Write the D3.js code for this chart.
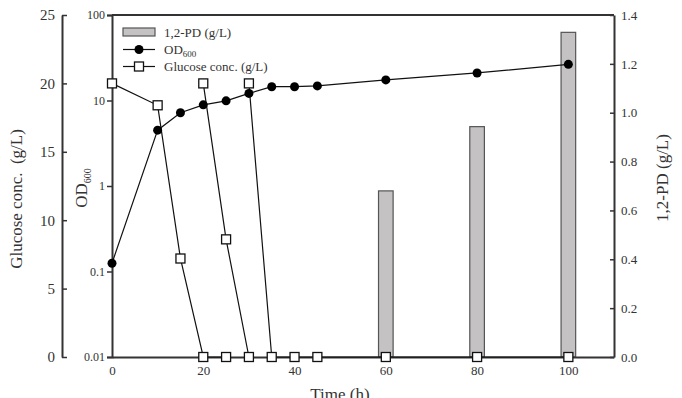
<!DOCTYPE html>
<html><head><meta charset="utf-8">
<script src="https://cdn.jsdelivr.net/npm/d3@7"></script>
<style>
body{margin:0;background:#fff;}
svg{display:block;font-family:"Liberation Serif","Times New Roman",serif;}
</style></head>
<body><svg id="c" width="682" height="398"></svg>
<script>
// ---- data ----
const odTime = [0, 10, 15, 20, 25, 30, 35, 40, 45, 60, 80, 100];
const odValue = [0.125, 4.5, 7.2, 8.9, 9.9, 12.1, 14.5, 14.5, 14.8, 17.4, 21.0, 26.5];
const glucoseSeg1Time = [0, 10, 15, 20, 25];
const glucoseSeg1Value = [20, 18.4, 7.2, 0, 0];
const glucoseSeg2Time = [20, 25, 30];
const glucoseSeg2Value = [20, 8.6, 0];
const glucoseSeg3Time = [30, 35, 40, 45, 60, 80, 100];
const glucoseSeg3Value = [20, 0, 0, 0, 0, 0, 0];
const pdTime = [60, 80, 100];
const pdValue = [0.68, 0.943, 1.329];
const xTicks = [0, 20, 40, 60, 80, 100];
const glucoseTicks = [0, 5, 10, 15, 20, 25];
const odTicks = [0.01, 0.1, 1, 10, 100];
const odTickLabels = ["0.01", "0.1", "1", "10", "100"];
const pdTicks = [0, 0.2, 0.4, 0.6, 0.8, 1.0, 1.2, 1.4];

const svg = d3.select("#c");
const L = 112, R = 614, T = 15, B = 357;
const axisCol = "#333", textCol = "#333";

const x = d3.scaleLinear().domain([0, 110]).range([L, R]);
const yOD = d3.scaleLog().domain([0.01, 100]).range([B, T]);
const yG = d3.scaleLinear().domain([0, 25]).range([B, T]);
const yPD = d3.scaleLinear().domain([0, 1.4]).range([B, T]);

// bars
const barW = x(3.2) - x(0);
svg.append("g").selectAll("rect").data(pdTime).join("rect")
  .attr("x", (d) => x(d) - barW / 2)
  .attr("y", (d, i) => yPD(pdValue[i]))
  .attr("width", barW)
  .attr("height", (d, i) => yPD(0) - yPD(pdValue[i]))
  .attr("fill", "#c4c2c2").attr("stroke", "#555").attr("stroke-width", 1.2);

// frame: top line
svg.append("line").attr("x1", L).attr("x2", R).attr("y1", T).attr("y2", T)
  .attr("stroke", axisCol).attr("stroke-width", 2);

// x axis
const gx = svg.append("g").attr("transform", `translate(0,${B})`)
  .call(d3.axisBottom(x).tickValues(xTicks).tickSize(0).tickPadding(9).tickFormat(d3.format("d")));
gx.select(".domain").attr("stroke", axisCol).attr("stroke-width", 2);
gx.selectAll("text").attr("font-size", 13).attr("fill", textCol).style("font-family", "Liberation Serif");

// OD axis (left of frame)
const gOD = svg.append("g").attr("transform", `translate(${L},0)`)
  .call(d3.axisLeft(yOD).tickValues(odTicks).tickSize(5).tickPadding(2)
    .tickFormat((d, i) => odTickLabels[i]));
gOD.select(".domain").attr("stroke", axisCol).attr("stroke-width", 2);
gOD.selectAll("line").attr("stroke", axisCol).attr("stroke-width", 1.5);
gOD.selectAll("text").attr("font-size", 12).attr("fill", textCol).style("font-family", "Liberation Serif");

// glucose axis (outer left)
const gGl = svg.append("g").attr("transform", `translate(62,0)`)
  .call(d3.axisLeft(yG).tickValues(glucoseTicks).tickSizeInner(-5).tickSizeOuter(0).tickPadding(7).tickFormat(d3.format("d")));
gGl.select(".domain").attr("stroke", axisCol).attr("stroke-width", 2);
gGl.selectAll("line").attr("stroke", axisCol).attr("stroke-width", 1.5);
gGl.selectAll("text").attr("font-size", 15).attr("fill", textCol).style("font-family", "Liberation Serif");

// right PD axis
const gPD = svg.append("g").attr("transform", `translate(${R},0)`)
  .call(d3.axisRight(yPD).tickValues(pdTicks).tickSizeInner(-4).tickSizeOuter(0).tickPadding(7).tickFormat(d3.format(".1f")));
gPD.select(".domain").attr("stroke", axisCol).attr("stroke-width", 2);
gPD.selectAll("line").attr("stroke", axisCol).attr("stroke-width", 1.5);
gPD.selectAll("text").attr("font-size", 13).attr("fill", textCol).style("font-family", "Liberation Serif");

// glucose lines
const gLine = d3.line().x((d) => x(d[0])).y((d) => yG(d[1]));
const segs = [
  [glucoseSeg1Time, glucoseSeg1Value],
  [glucoseSeg2Time, glucoseSeg2Value],
  [glucoseSeg3Time, glucoseSeg3Value]
].map(([t, v]) => t.map((tt, i) => [tt, v[i]]));
segs.forEach((s) => {
  svg.append("path").attr("d", gLine(s)).attr("fill", "none").attr("stroke", "#111").attr("stroke-width", 1.2);
});

// OD line
const odPts = odTime.map((t, i) => [t, odValue[i]]);
svg.append("path").attr("d", d3.line().x((d) => x(d[0])).y((d) => yOD(d[1]))(odPts))
  .attr("fill", "none").attr("stroke", "#111").attr("stroke-width", 1.2);

// glucose markers
const sq = 9;
segs.forEach((s) => {
  svg.append("g").selectAll("rect").data(s).join("rect")
    .attr("x", (d) => x(d[0]) - sq / 2).attr("y", (d) => yG(d[1]) - sq / 2)
    .attr("width", sq).attr("height", sq)
    .attr("fill", "#fff").attr("stroke", "#111").attr("stroke-width", 1.3);
});
// OD markers
svg.append("g").selectAll("circle").data(odPts).join("circle")
  .attr("cx", (d) => x(d[0])).attr("cy", (d) => yOD(d[1])).attr("r", 4.5)
  .attr("fill", "#000");

// legend
const lg = svg.append("g").style("font-family", "Liberation Serif").attr("fill", textCol);
lg.append("rect").attr("x", 123).attr("y", 28).attr("width", 32).attr("height", 8)
  .attr("fill", "#c4c2c2").attr("stroke", "#555").attr("stroke-width", 1.2);
lg.append("text").attr("x", 164).attr("y", 37).attr("font-size", 13).text("1,2-PD (g/L)");
lg.append("line").attr("x1", 123).attr("x2", 155).attr("y1", 49.5).attr("y2", 49.5).attr("stroke", "#111").attr("stroke-width", 1.2);
lg.append("circle").attr("cx", 139).attr("cy", 49.5).attr("r", 4.5).attr("fill", "#000");
const odt = lg.append("text").attr("x", 164).attr("y", 54).attr("font-size", 13);
odt.append("tspan").text("OD");
odt.append("tspan").attr("font-size", 9).attr("dy", 3).text("600");
lg.append("line").attr("x1", 123).attr("x2", 155).attr("y1", 66.5).attr("y2", 66.5).attr("stroke", "#111").attr("stroke-width", 1.2);
lg.append("rect").attr("x", 139 - sq / 2).attr("y", 66.5 - sq / 2).attr("width", sq).attr("height", sq)
  .attr("fill", "#fff").attr("stroke", "#111").attr("stroke-width", 1.3);
lg.append("text").attr("x", 164).attr("y", 71).attr("font-size", 13).text("Glucose conc. (g/L)");

// axis titles
svg.append("text").attr("transform", `translate(22,199) rotate(-90)`).attr("text-anchor", "middle")
  .attr("font-size", 17).attr("fill", textCol).attr("xml:space", "preserve").text("Glucose conc.  (g/L)");
const odTitle = svg.append("text").attr("transform", `translate(87,188) rotate(-90)`).attr("text-anchor", "middle")
  .attr("font-size", 17).attr("fill", textCol);
odTitle.append("tspan").text("OD");
odTitle.append("tspan").attr("font-size", 10).attr("dy", 4).text("600");
svg.append("text").attr("transform", `translate(668,178) rotate(-90)`).attr("text-anchor", "middle")
  .attr("font-size", 17).attr("fill", textCol).text("1,2-PD (g/L)");
svg.append("text").attr("x", 340).attr("y", 400).attr("text-anchor", "middle")
  .attr("font-size", 17).attr("fill", textCol).text("Time (h)");
</script></body></html>
